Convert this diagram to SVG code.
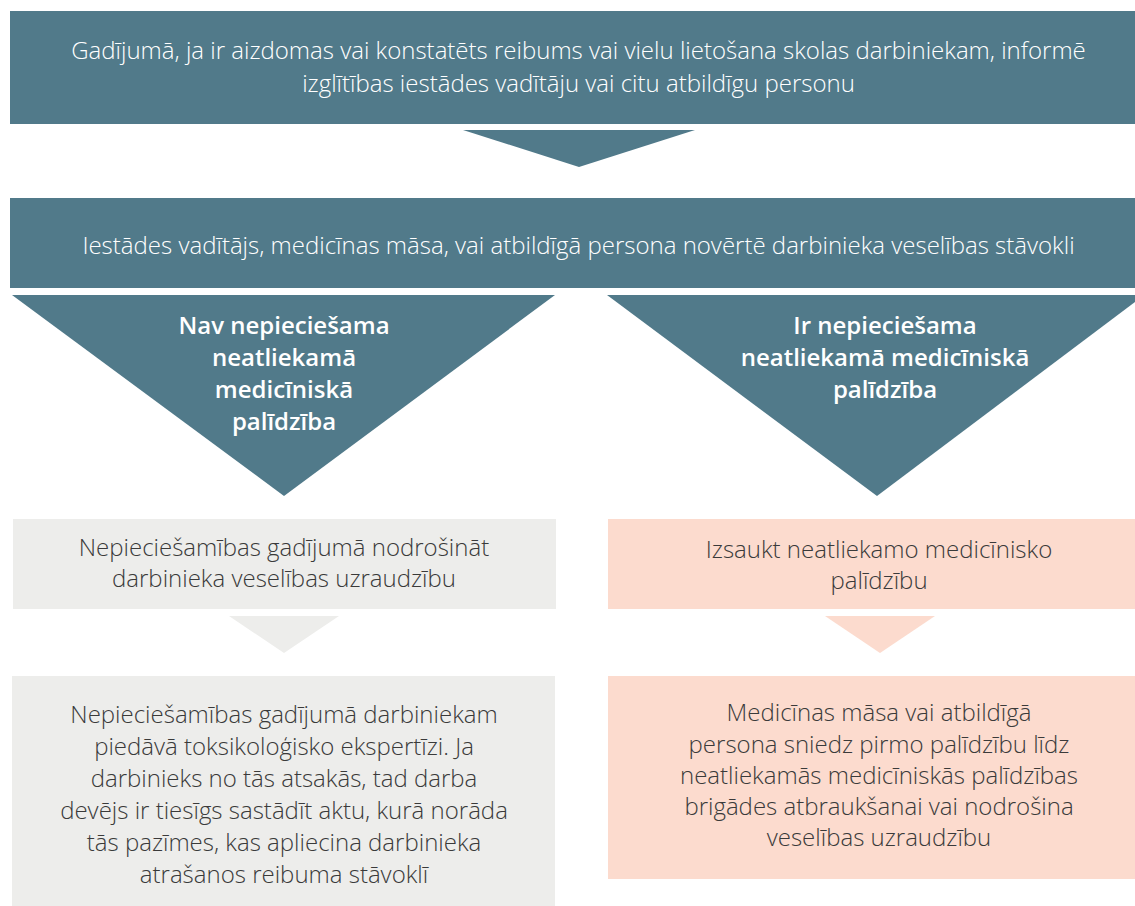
<svg xmlns="http://www.w3.org/2000/svg" width="1135" height="906" viewBox="0 0 1135 906">
<style>
.dark{fill:#517a8a}
.gray{fill:#ededeb}
.peach{fill:#fcdbce}
.wt{font-family:"Open Sans","Noto Sans",sans-serif;font-weight:300;font-size:24px;fill:#ffffff;text-anchor:middle}
.bt{font-family:"Open Sans","Noto Sans",sans-serif;font-weight:600;font-size:24px;fill:#ffffff;text-anchor:middle}
.dt{font-family:"Open Sans","Noto Sans",sans-serif;font-weight:300;font-size:24px;fill:#3a3a3a;text-anchor:middle}
</style>
<rect width="1135" height="906" fill="#ffffff"/>
<g id="connectors">
<polygon class="dark" points="463,130 695,130 579,167"/>
<polygon class="gray" points="229,616 339,616 284,653"/>
<polygon class="peach" points="825,616 935,616 880,653"/>
</g>
<g id="n1">
<rect class="dark" x="10" y="11" width="1125" height="113"/>
<text class="wt" x="578.5" y="59">Gadījumā, ja ir aizdomas vai konstatēts reibums vai vielu lietošana skolas darbiniekam, informē</text>
<text class="wt" x="578.5" y="92">izglītības iestādes vadītāju vai citu atbildīgu personu</text>
</g>
<g id="n2">
<rect class="dark" x="10" y="198" width="1125" height="90"/>
<text class="wt" x="578.5" y="254">Iestādes vadītājs, medicīnas māsa, vai atbildīgā persona novērtē darbinieka veselības stāvokli</text>
</g>
<g id="n3">
<polygon class="dark" points="12,295 555,295 284,496"/>
<text class="bt" x="284" y="334">Nav nepieciešama</text>
<text class="bt" x="284" y="366">neatliekamā</text>
<text class="bt" x="284" y="398">medicīniskā</text>
<text class="bt" x="284" y="430">palīdzība</text>
</g>
<g id="n4">
<polygon class="dark" points="607,295 1135,295 1135,302 877,496"/>
<text class="bt" x="885" y="334">Ir nepieciešama</text>
<text class="bt" x="885" y="366">neatliekamā medicīniskā</text>
<text class="bt" x="885" y="398">palīdzība</text>
</g>
<g id="n5">
<rect class="gray" x="13" y="519" width="543" height="90"/>
<text class="dt" x="284" y="556">Nepieciešamības gadījumā nodrošināt</text>
<text class="dt" x="284" y="587">darbinieka veselības uzraudzību</text>
</g>
<g id="n6">
<rect class="gray" x="12" y="676" width="543" height="230"/>
<text class="dt" x="284" y="723">Nepieciešamības gadījumā darbiniekam</text>
<text class="dt" x="284" y="755">piedāvā toksikoloģisko ekspertīzi. Ja</text>
<text class="dt" x="284" y="787">darbinieks no tās atsakās, tad darba</text>
<text class="dt" x="284" y="819">devējs ir tiesīgs sastādīt aktu, kurā norāda</text>
<text class="dt" x="284" y="851">tās pazīmes, kas apliecina darbinieka</text>
<text class="dt" x="284" y="883">atrašanos reibuma stāvoklī</text>
</g>
<g id="n7">
<rect class="peach" x="608" y="519" width="527" height="90"/>
<text class="dt" x="879" y="558">Izsaukt neatliekamo medicīnisko</text>
<text class="dt" x="879" y="589">palīdzību</text>
</g>
<g id="n8">
<rect class="peach" x="608" y="676" width="527" height="203"/>
<text class="dt" x="879" y="721">Medicīnas māsa vai atbildīgā</text>
<text class="dt" x="879" y="753">persona sniedz pirmo palīdzību līdz</text>
<text class="dt" x="879" y="784">neatliekamās medicīniskās palīdzības</text>
<text class="dt" x="879" y="815">brigādes atbraukšanai vai nodrošina</text>
<text class="dt" x="879" y="846">veselības uzraudzību</text>
</g>
</svg>
